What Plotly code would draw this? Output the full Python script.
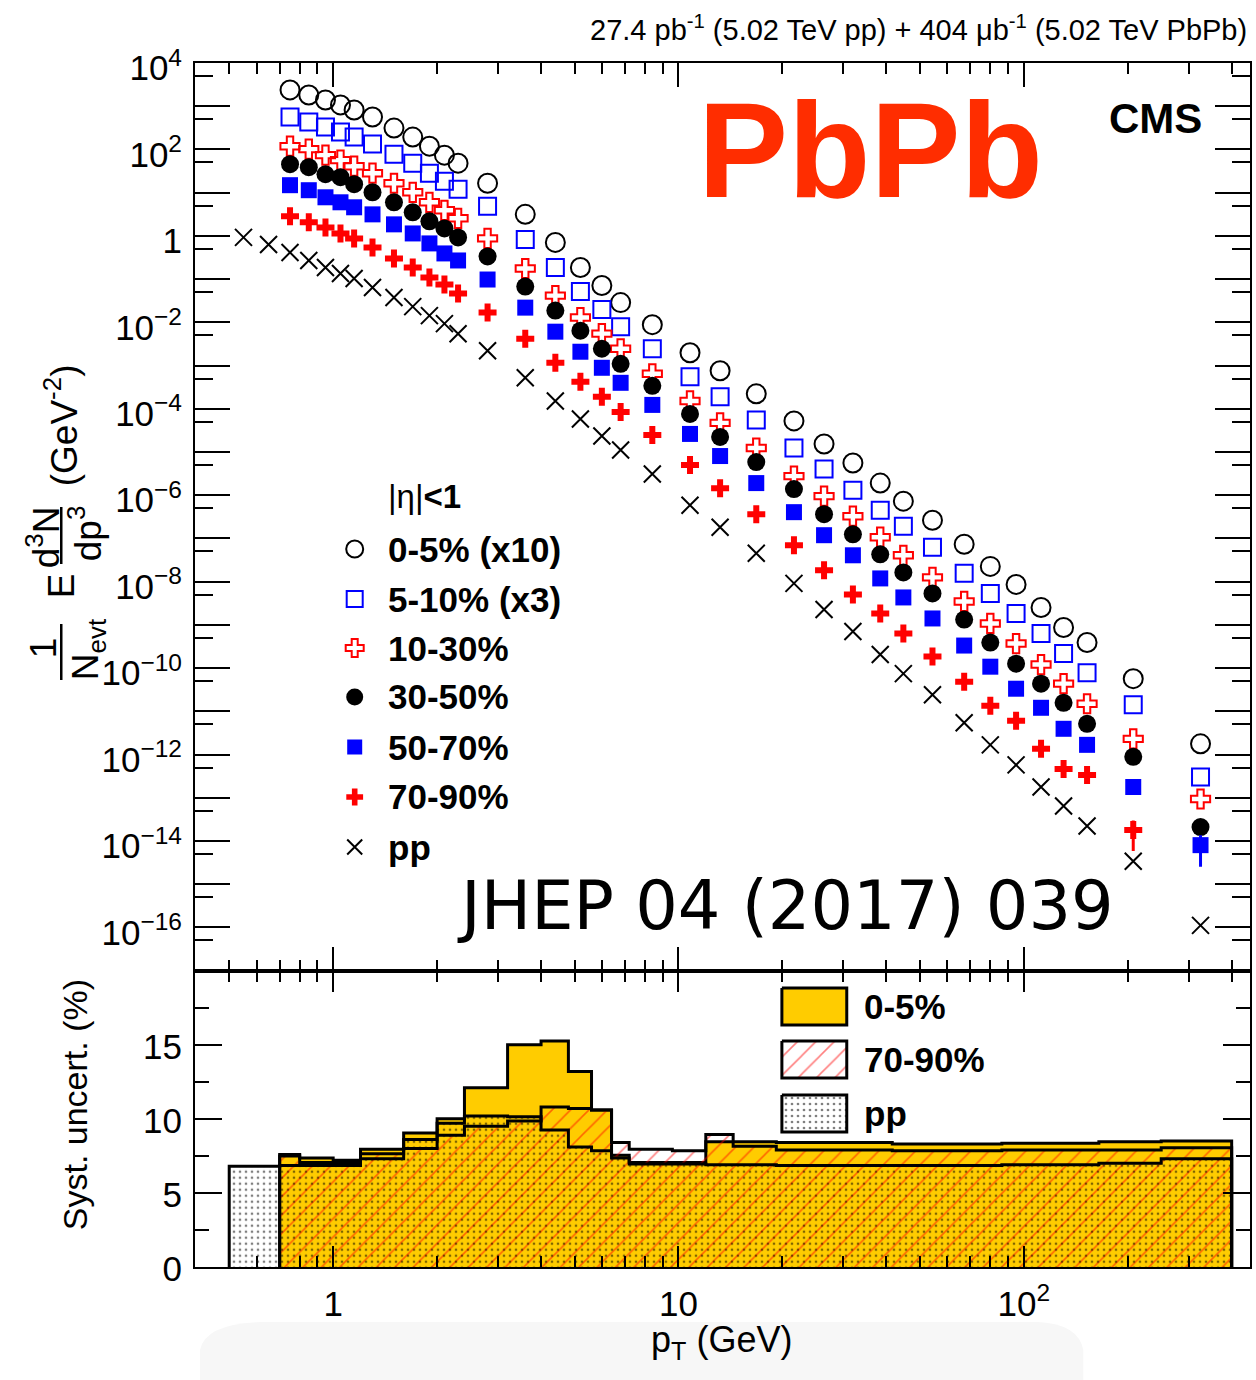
import math
import plotly.graph_objects as go

# ---------------------------------------------------------------- data
pt_pp = [0.55, 0.65, 0.75, 0.85, 0.95, 1.05, 1.15, 1.3, 1.5, 1.7, 1.9, 2.1, 2.3, 2.8, 3.6, 4.4,
         5.2, 6.0, 6.8, 8.4, 10.8, 13.2, 16.8, 21.6, 26.4, 32.0, 38.4, 44.8, 54.4, 67.2, 80.0,
         95.0, 112.2, 130.4, 152.5, 207.5, 325.0]
pt_pbpb = [0.75, 0.85, 0.95, 1.05, 1.15, 1.3, 1.5, 1.7, 1.9, 2.1, 2.3, 2.8, 3.6, 4.4,
           5.2, 6.0, 6.8, 8.4, 10.8, 13.2, 16.8, 21.6, 26.4, 32.0, 38.4, 44.8, 54.4, 67.2, 80.0,
           95.0, 112.2, 130.4, 152.5, 207.5, 325.0]

cent_0_5_x10 = [2380, 1820, 1390, 1070, 816, 562, 312, 193, 119, 73.8, 48.1, 16.5, 3.15, 0.707,
                0.186, 0.0711, 0.0286, 8.85e-3, 1.98e-3, 7.57e-4, 2.22e-4, 5.24e-5, 1.53e-5,
                5.56e-6, 1.91e-6, 7.30e-7, 2.64e-7, 7.33e-8, 2.26e-8, 8.65e-9, 2.53e-9,
                8.71e-10, 3.91e-10, 5.70e-11, 1.77e-12]
cent_5_10_x3 = [562, 430, 329, 252, 193, 133, 77.8, 48.1, 28.2, 18.4, 12.0, 4.83, 0.830, 0.186,
                0.0516, 0.0197, 7.94e-3, 2.45e-3, 5.50e-4, 1.89e-4, 5.52e-5, 1.24e-5, 4.03e-6,
                1.31e-6, 4.51e-7, 1.92e-7, 6.25e-8, 1.56e-8, 5.36e-9, 1.84e-9, 6.31e-10,
                2.17e-10, 7.87e-11, 1.42e-11, 3.04e-13]
cent_10_30 = [119, 102, 73.8, 56.5, 41.0, 28.2, 16.5, 10.2, 5.99, 3.91, 2.55, 0.875, 0.176,
              0.0416, 0.0129, 5.47e-3, 2.45e-3, 6.45e-4, 1.52e-4, 4.71e-5, 1.24e-5, 2.77e-6,
              9.53e-7, 3.27e-7, 1.07e-7, 4.08e-8, 1.26e-8, 3.49e-9, 1.08e-9, 3.70e-10,
              1.21e-10, 4.37e-11, 1.50e-11, 2.31e-12, 9.38e-14]
cent_30_50 = [45.6, 38.8, 26.7, 22.8, 15.7, 10.2, 5.99, 3.51, 2.17, 1.49, 0.923, 0.334, 0.0673,
              0.0187, 6.42e-3, 2.45e-3, 1.10e-3, 3.40e-4, 7.62e-5, 2.23e-5, 5.86e-6, 1.39e-6,
              3.64e-7, 1.25e-7, 4.30e-8, 1.64e-8, 5.36e-9, 1.33e-9, 3.91e-10, 1.27e-10,
              4.37e-11, 1.58e-11, 5.15e-12, 8.85e-13, 2.10e-14]
cent_50_70 = [14.9, 11.4, 7.82, 5.99, 4.59, 3.15, 1.85, 1.14, 0.670, 0.393, 0.270, 0.0979,
              0.0219, 6.08e-3, 2.09e-3, 8.89e-4, 3.99e-4, 1.23e-4, 2.62e-5, 8.07e-6, 1.91e-6,
              4.06e-7, 1.19e-7, 4.08e-8, 1.19e-8, 4.32e-9, 1.41e-9, 3.33e-10, 1.08e-10,
              3.34e-11, 1.21e-11, 3.95e-12, 1.68e-12, 1.78e-13, 8.03e-15]
cent_50_70_err = [0] * 34 + [5.5e-15]
cent_70_90 = [2.83, 2.06, 1.57, 1.14, 0.875, 0.541, 0.301, 0.186, 0.109, 0.0749, 0.0463,
              0.0168, 4.19e-3, 1.16e-3, 4.21e-4, 1.89e-4, 8.47e-5, 2.48e-5, 4.99e-6, 1.46e-6,
              3.64e-7, 6.95e-8, 1.83e-8, 5.07e-9, 1.84e-9, 6.31e-10, 1.85e-10, 4.86e-11,
              1.35e-11, 6.05e-12, 1.36e-12, 4.66e-13, 3.38e-13, 1.79e-14]
cent_70_90_err = [0] * 33 + [1.2e-14]
pp_yield = [0.923, 0.635, 0.414, 0.270, 0.186, 0.135, 0.103, 0.0638, 0.0374, 0.0231, 0.0143,
            9.33e-3, 5.47e-3, 2.20e-3, 5.21e-4, 1.52e-4, 5.83e-5, 2.35e-5, 1.11e-5, 3.09e-6,
            5.89e-7, 1.82e-7, 4.54e-8, 9.14e-9, 2.28e-9, 7.03e-10, 2.06e-10, 7.45e-11,
            2.43e-11, 5.43e-12, 1.68e-12, 5.77e-13, 1.78e-13, 6.45e-14, 2.22e-14, 3.42e-15,
            1.12e-16]

# systematic uncertainties (%), per pT bin
edges_pp = [0.5, 0.6, 0.7, 0.8, 0.9, 1.0, 1.1, 1.2, 1.4, 1.6, 1.8, 2.0, 2.2, 2.4, 3.2, 4.0, 4.8,
            5.6, 6.4, 7.2, 9.6, 12.0, 14.4, 19.2, 24.0, 28.8, 35.2, 41.6, 48.0, 60.8, 73.6,
            86.4, 103.6, 120.8, 140.0, 165.0, 250.0, 400.0]
edges_pbpb = [0.7, 0.8, 0.9, 1.0, 1.1, 1.2, 1.4, 1.6, 1.8, 2.0, 2.2, 2.4, 3.2, 4.0, 4.8,
              5.6, 6.4, 7.2, 9.6, 12.0, 14.4, 19.2, 24.0, 28.8, 35.2, 41.6, 48.0, 60.8, 73.6,
              86.4, 103.6, 120.8, 140.0, 165.0, 250.0, 400.0]
syst_0_5 = [7.6, 7.35, 7.35, 7.2, 7.2, 7.95, 7.95, 9.05, 9.05, 10.0, 10.0, 12.1, 15.0, 15.25,
            13.2, 10.6, 7.55, 7.05, 7.05, 8.45, 8.45, 8.4, 8.4, 8.4, 8.4, 8.3, 8.3, 8.3, 8.3,
            8.35, 8.35, 8.35, 8.35, 8.45, 8.5]
syst_70_90 = [7.5, 7.05, 7.05, 7.05, 7.05, 7.65, 7.65, 8.0, 8.0, 8.9, 8.9, 9.5, 9.85, 10.8,
              10.7, 10.6, 8.4, 7.95, 7.85, 8.95, 8.15, 7.9, 7.9, 7.9, 7.9, 7.85, 7.85, 7.85,
              7.85, 7.9, 7.9, 7.9, 7.9, 7.9, 8.05]
syst_pp = [6.8, 6.8, 6.85, 6.85, 6.85, 6.85, 6.85, 7.3, 7.3, 8.6, 8.6, 9.7, 9.7, 10.2, 10.15,
           9.25, 8.1, 7.85, 7.35, 6.95, 6.95, 6.9, 6.9, 6.85, 6.85, 6.85, 6.85, 6.85, 6.85,
           6.85, 6.85, 6.9, 6.9, 6.9, 6.9, 7.0, 7.3]

legend_top = ["0-5% (x10)", "5-10% (x3)", "10-30%", "30-50%", "50-70%", "70-90%", "pp"]
legend_bottom = ["0-5%", "70-90%", "pp"]
ytick_exps = list(range(-16, 5))
xtick_major = [1, 10, 100]
xtick_labels = ["1", "10", "10<sup>2</sup>"]
xtick_minor = [0.5, 0.6, 0.7, 0.8, 0.9, 2, 3, 4, 5, 6, 7, 8, 9,
               20, 30, 40, 50, 60, 70, 80, 90, 200, 300, 400]

# ---------------------------------------------------------------- styling / geometry
W, H = 1256, 1380
L, R, T, B = 195, 1252, 63, 1267          # plot area in pixels
SPLIT = 970.7                              # boundary between panels (pixels)
lower_frac = (B - SPLIT) / (B - T)

def PX(x):
    return (x - L) / (R - L)

def PY(y):
    return (B - y) / (B - T)

FONT = "Liberation Sans, Arial, Helvetica, sans-serif"
BLUE = "#0000FF"
RED = "#FF0000"
GOLD = "#FFCC00"

fig = go.Figure()

# ---------------------------------------------------------------- spectra (upper panel)
def spectrum(x, y, symbol, color, size, lw=2, err=None, name=""):
    kw = {}
    if err is not None:
        kw["error_y"] = dict(type="data", array=err, symmetric=True, color=color,
                             thickness=3, width=0)
    fig.add_trace(go.Scatter(
        x=x, y=y, mode="markers", xaxis="x", yaxis="y", name=name,
        marker=dict(symbol=symbol, size=size, color=color,
                    line=dict(color=color, width=lw)),
        cliponaxis=False, **kw))

spectrum(pt_pbpb, cent_0_5_x10, "circle-open", "black", 19, 2, name=legend_top[0])
spectrum(pt_pbpb, cent_5_10_x3, "square-open", BLUE, 17, 2, name=legend_top[1])
spectrum(pt_pbpb, cent_10_30, "cross-open", RED, 16, 2, name=legend_top[2])
spectrum(pt_pbpb, cent_30_50, "circle", "black", 18, 0, name=legend_top[3])
spectrum(pt_pbpb, cent_50_70, "square", BLUE, 16, 0, err=cent_50_70_err, name=legend_top[4])
spectrum(pt_pbpb[:len(cent_70_90)], cent_70_90, "cross", RED, 15, 0, err=cent_70_90_err,
         name=legend_top[5])
spectrum(pt_pp, pp_yield, "x-thin-open", "black", 17, 2, name=legend_top[6])

# ---------------------------------------------------------------- systematic histograms
def step(edges, vals):
    xs = [edges[0]] + list(edges[:-1]) + [edges[-1], edges[-1]]
    ys = [0] + list(vals) + [vals[-1], 0]
    return xs, ys

HATCH = dict(shape="/", fgcolor=RED, size=13, solidity=0.12, fillmode="overlay")
DOTS = dict(shape=".", fgcolor="black", size=6, solidity=0.16, fillmode="overlay")

x05, y05 = step(edges_pbpb, syst_0_5)
fig.add_trace(go.Scatter(x=x05, y=y05, xaxis="x2", yaxis="y2", mode="lines",
                         line=dict(shape="hv", color="black", width=3),
                         fill="tozeroy", fillcolor=GOLD))
x79, y79 = step(edges_pbpb, syst_70_90)
fig.add_trace(go.Scatter(x=x79, y=y79, xaxis="x2", yaxis="y2", mode="lines",
                         line=dict(shape="hv", color="black", width=3),
                         fill="tozeroy", fillcolor="rgba(0,0,0,0)", fillpattern=HATCH))
xpp, ypp = step(edges_pp, syst_pp)
fig.add_trace(go.Scatter(x=xpp, y=ypp, xaxis="x2", yaxis="y2", mode="lines",
                         line=dict(shape="hv", color="black", width=3),
                         fill="tozeroy", fillcolor="rgba(0,0,0,0)", fillpattern=DOTS))

# ---------------------------------------------------------------- legend glyphs (pixel overlay axes)
rows = [549, 599, 648, 697, 747, 797, 847]
leg_syms = [("circle-open", "black", 17, 2), ("square-open", BLUE, 16, 2),
            ("cross-open", RED, 15, 2), ("circle", "black", 17, 0),
            ("square", BLUE, 15, 0), ("cross", RED, 14, 0), ("x-thin-open", "black", 15, 2)]
for (sym, col, sz, lw), ry in zip(leg_syms, rows):
    fig.add_trace(go.Scatter(x=[355], y=[ry], xaxis="x3", yaxis="y3", mode="markers",
                             marker=dict(symbol=sym, size=sz, color=col,
                                         line=dict(color=col, width=lw)),
                             cliponaxis=False))

box_rows = [(988, 1025), (1041, 1078), (1095, 1132)]
box_styles = [dict(fillcolor=GOLD),
              dict(fillcolor="white", fillpattern=HATCH),
              dict(fillcolor="white", fillpattern=DOTS)]
for (y0, y1), st in zip(box_rows, box_styles):
    fig.add_trace(go.Scatter(x=[783, 848, 848, 783, 783], y=[y0, y0, y1, y1, y0],
                             xaxis="x3", yaxis="y3", mode="lines",
                             line=dict(color="black", width=3), fill="toself", **st))

# ---------------------------------------------------------------- annotations
ann = []

def text(x, y, s, size, xanchor="center", yanchor="middle", bold=False, color="black",
         family=FONT, angle=0):
    ann.append(dict(x=PX(x), y=PY(y), xref="paper", yref="paper", text=s, showarrow=False,
                    xanchor=xanchor, yanchor=yanchor, textangle=angle,
                    font=dict(size=size, family=family, color=color,
                              weight="bold" if bold else "normal")))

text(1251, 28, "27.4 pb<sup>-1</sup> (5.02 TeV pp) + 404 \u03bcb<sup>-1</sup> (5.02 TeV PbPb)",
     29, xanchor="right")
text(1157, 118, "CMS", 42, bold=True)
text(872, 150, "PbPb", 135, bold=True, color="#FF2D00")
text(787, 906, "JHEP 04 (2017) 039", 67, family="DejaVu Sans, Verdana, sans-serif")
text(386, 497, "|\u03b7|<b>&lt;1</b>", 33, xanchor="left")
for lab, ry in zip(legend_top, rows):
    text(386, ry, lab, 35, xanchor="left", bold=True)
for lab, (y0, y1) in zip(legend_bottom, box_rows):
    text(863, (y0 + y1) / 2, lab, 35, xanchor="left", bold=True)

# axis titles
text(722, 1342, "p<sub>T</sub> (GeV)", 36)
text(75, 1105, "Syst. uncert. (%)", 34, angle=-90)
text(43, 648, "1", 37, angle=-90)
text(88, 650, "N<sub>evt</sub>", 37, angle=-90)
text(61, 586, "E", 37, angle=-90)
text(43, 537, "d<sup>3</sup>N", 37, angle=-90)
text(85, 533, "dp<sup>3</sup>", 37, angle=-90)
text(61, 425, "(GeV<sup>-2</sup>)", 37, angle=-90)

shapes = [
    dict(type="line", xref="paper", yref="paper", x0=PX(61), x1=PX(61), y0=PY(624),
         y1=PY(680), line=dict(color="black", width=2.5)),
    dict(type="line", xref="paper", yref="paper", x0=PX(61), x1=PX(61), y0=PY(507),
         y1=PY(564), line=dict(color="black", width=2.5)),
    dict(type="path", xref="paper", yref="paper", layer="below", line=dict(width=0),
         fillcolor="#f7f7f7",
         path=f"M {PX(200)},{PY(1380)} L {PX(200)},{PY(1350)} Q {PX(205)},{PY(1324)} "
              f"{PX(260)},{PY(1322)} L {PX(1040)},{PY(1322)} Q {PX(1080)},{PY(1324)} "
              f"{PX(1085)},{PY(1350)} L {PX(1085)},{PY(1380)} Z"),
]

# ---------------------------------------------------------------- axes
xr = [math.log10(0.398), math.log10(452)]
common = dict(showgrid=False, zeroline=False, showline=True, linecolor="black", linewidth=2,
              mirror="allticks", ticks="inside", tickcolor="black", tickwidth=2)
tickfont = dict(size=35, family=FONT, color="black")

ytv = [10.0 ** k for k in ytick_exps]
ytt = []
for k in ytick_exps:
    if k % 2:
        ytt.append("")
    elif k == 0:
        ytt.append("1")
    else:
        ytt.append("10<sup>" + ("\u2212" if k < 0 else "") + str(abs(k)) + "</sup>")
yminor = [5 * 10.0 ** k for k in range(-17, 4)]

fig.update_layout(
    width=W, height=H,
    margin=dict(l=L, r=W - R, t=T, b=H - B, pad=0),
    paper_bgcolor="white", plot_bgcolor="rgba(0,0,0,0)",
    showlegend=False,
    font=dict(family=FONT, color="black"),
    annotations=ann, shapes=shapes,
    xaxis=dict(type="log", range=xr, domain=[0, 1], anchor="y", showticklabels=False,
               tickmode="array", tickvals=xtick_major, ticklen=24,
               minor=dict(tickmode="array", tickvals=xtick_minor, ticklen=11, tickwidth=2,
                          tickcolor="black", ticks="inside", showgrid=False),
               **common),
    yaxis=dict(type="log", range=[-17, 4], domain=[lower_frac, 1], anchor="x",
               tickmode="array", tickvals=ytv, ticktext=ytt, ticklen=35, tickfont=tickfont,
               ticklabelstandoff=4, ticklabelshift=5,
               minor=dict(tickmode="array", tickvals=yminor, ticklen=18, tickwidth=2,
                          tickcolor="black", ticks="inside", showgrid=False),
               **common),
    xaxis2=dict(type="log", range=xr, domain=[0, 1], anchor="y2", matches="x",
                tickmode="array", tickvals=xtick_major, ticktext=xtick_labels, ticklen=21,
                tickfont=tickfont, ticklabelstandoff=5,
                minor=dict(tickmode="array", tickvals=xtick_minor, ticklen=11, tickwidth=2,
                           tickcolor="black", ticks="inside", showgrid=False),
                **common),
    yaxis2=dict(range=[0, 20], domain=[0, lower_frac], anchor="x2",
                tickmode="array", tickvals=[0, 5, 10, 15], ticktext=["0", "5", "10", "15"],
                ticklen=27, tickfont=tickfont, ticklabelstandoff=4, ticklabelshift=2,
                minor=dict(tickmode="array", tickvals=[2.5, 7.5, 12.5, 17.5], ticklen=14,
                           tickwidth=2, tickcolor="black", ticks="inside", showgrid=False),
                **common),
    xaxis3=dict(range=[L, R], domain=[0, 1], anchor="y3", visible=False, fixedrange=True),
    yaxis3=dict(range=[B, T], domain=[0, 1], anchor="x3", visible=False, fixedrange=True),
)

fig.write_html("out.html")
